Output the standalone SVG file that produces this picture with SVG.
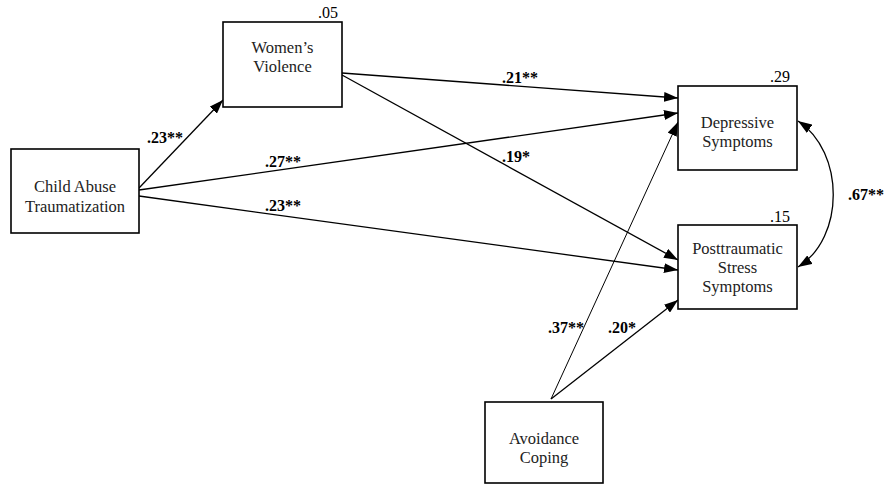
<svg xmlns="http://www.w3.org/2000/svg" width="886" height="486" viewBox="0 0 886 486">
<style>
.box{fill:#fff;stroke:#000;stroke-width:1.6}
text{font-family:'Liberation Serif','Times New Roman',Times,serif}
.t{font-size:16.5px;fill:#222;text-anchor:middle}
.r{font-size:16px;fill:#000}
.c{font-size:16px;font-weight:bold;fill:#000}
.ln{fill:none;stroke:#000;stroke-width:1.3}
</style>
<defs>
<marker id="ah" markerUnits="userSpaceOnUse" markerWidth="14" markerHeight="10" viewBox="0 0 14 10" refX="14" refY="5" orient="auto-start-reverse">
<path d="M0,0 L14,5 L0,10 z" fill="#000"/>
</marker>
</defs>
<rect width="886" height="486" fill="#fff"/>
<g id="connectors">
<line class="ln" x1="139" y1="188" x2="223" y2="100" marker-end="url(#ah)"/>
<line class="ln" x1="139" y1="190" x2="678" y2="113" marker-end="url(#ah)"/>
<line class="ln" x1="139" y1="196" x2="678" y2="270" marker-end="url(#ah)"/>
<line class="ln" x1="342" y1="73" x2="678" y2="98" marker-end="url(#ah)"/>
<line class="ln" x1="342" y1="75" x2="678" y2="260" marker-end="url(#ah)"/>
<line class="ln" x1="551" y1="399" x2="678" y2="300" marker-end="url(#ah)"/>
<line class="ln" style="stroke-width:1" x1="551" y1="399" x2="678" y2="122" marker-end="url(#ah)"/>
<path class="ln" d="M798,121 C845,152 845,238 798,267" marker-start="url(#ah)" marker-end="url(#ah)"/>
<text class="c" x="147" y="143" font-family="Liberation Serif, serif">.23**</text>
<text class="c" x="265" y="167">.27**</text>
<text class="c" x="265" y="211">.23**</text>
<text class="c" x="502" y="83">.21**</text>
<text class="c" x="502" y="162">.19*</text>
<text class="c" x="548" y="333">.37**</text>
<text class="c" x="608" y="333">.20*</text>
<text class="c" x="848" y="200">.67**</text>
</g>
<g id="child-abuse">
<rect class="box" x="11" y="149" width="128" height="84"/>
<text class="t" x="75" y="192">Child Abuse</text>
<text class="t" x="75" y="212">Traumatization</text>
</g>
<g id="womens-violence">
<rect class="box" x="223" y="22" width="119" height="85"/>
<text class="t" x="282.5" y="53">Women’s</text>
<text class="t" x="282.5" y="72">Violence</text>
<text class="r" x="318" y="18">.05</text>
</g>
<g id="depressive">
<rect class="box" x="678" y="86" width="119" height="84"/>
<text class="t" x="737.5" y="128">Depressive</text>
<text class="t" x="737.5" y="147">Symptoms</text>
<text class="r" x="770" y="82">.29</text>
</g>
<g id="ptss">
<rect class="box" x="678" y="225" width="119" height="84"/>
<text class="t" x="737.5" y="254">Posttraumatic</text>
<text class="t" x="737.5" y="273">Stress</text>
<text class="t" x="737.5" y="292">Symptoms</text>
<text class="r" x="770" y="222">.15</text>
</g>
<g id="avoidance">
<rect class="box" x="485" y="402" width="118" height="81"/>
<text class="t" x="544" y="444">Avoidance</text>
<text class="t" x="544" y="463">Coping</text>
</g>
</svg>
